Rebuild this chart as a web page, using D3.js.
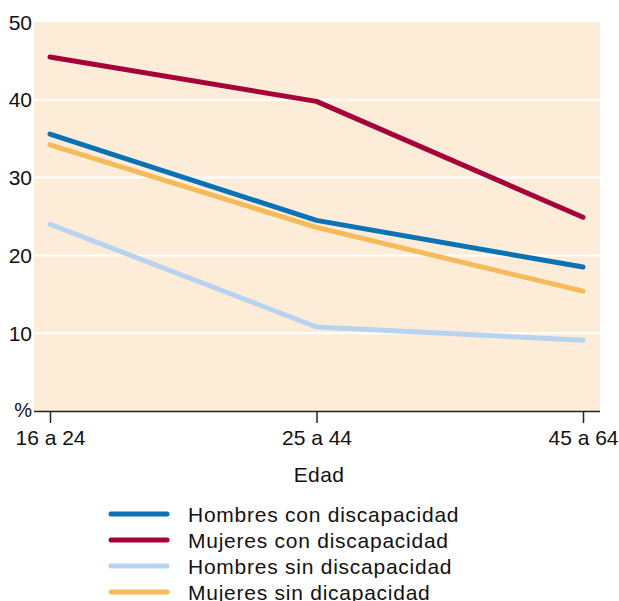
<!DOCTYPE html>
<html><head><meta charset="utf-8">
<script src="https://cdn.jsdelivr.net/npm/d3@7"></script>
<style>body{margin:0;background:#fff;} text{font-family:"Liberation Sans",Arial,sans-serif;fill:#111;}</style>
</head><body>
<script>
const categories = ["16 a 24", "25 a 44", "45 a 64"];
const hombresCon = [35.6, 24.5, 18.5];
const mujeresCon = [45.5, 39.8, 24.9];
const hombresSin = [24.0, 10.8, 9.1];
const mujeresSin = [34.2, 23.6, 15.4];
const seriesNames = ["Hombres con discapacidad", "Mujeres con discapacidad", "Hombres sin discapacidad", "Mujeres sin dicapacidad"];
const colors = ["#0a72b6", "#a6023a", "#b8d3ef", "#f5bb5a"];
const yTicks = [10, 20, 30, 40, 50];

(function () {
const W = 619, H = 601;
const svg = d3.select("body").append("svg").attr("width", W).attr("height", H);
const pL = 34, pR = 600, pT = 22, pB = 411;
const x = d3.scalePoint().domain(categories).range([50, 583]);
const y = d3.scaleLinear().domain([0, 50]).range([pB, pT]);

svg.append("rect").attr("x", pL).attr("y", pT).attr("width", pR - pL).attr("height", pB - pT).attr("fill", "#fdecd8");
svg.selectAll("line.grid").data(yTicks.slice(0, -1)).join("line")
  .attr("x1", pL).attr("x2", pR).attr("y1", d => y(d)).attr("y2", d => y(d))
  .attr("stroke", "#fff").attr("stroke-width", 2);

svg.selectAll("text.yl").data(yTicks).join("text")
  .attr("x", 32).attr("y", d => y(d) + 7.5).attr("text-anchor", "end")
  .attr("font-size", 21).text(d => d);
svg.append("text").attr("x", 32).attr("y", pB + 6).attr("text-anchor", "end").attr("font-size", 20).text("%");

const xAxis = svg.append("g").attr("transform", `translate(0,${pB})`)
  .call(d3.axisBottom(x).tickSize(12).tickPadding(7));
xAxis.select(".domain").attr("d", `M${pL},0.5H${pR}`).attr("stroke", "#222").attr("stroke-width", 1.5);
xAxis.selectAll(".tick line").attr("stroke", "#222").attr("stroke-width", 1.5);
xAxis.selectAll(".tick text").attr("font-size", 21).attr("fill", "#111").attr("font-family", "Liberation Sans, Arial, sans-serif");
svg.append("text").attr("x", 319).attr("y", 482).attr("text-anchor", "middle").attr("font-size", 21).attr("letter-spacing", 0.4).text("Edad");

const allSeries = [hombresCon, mujeresCon, hombresSin, mujeresSin];
const line = d3.line().x((d, i) => x(categories[i])).y(d => y(d));
[2, 3, 0, 1].forEach(k => {
  svg.append("path").attr("d", line(allSeries[k])).attr("fill", "none")
    .attr("stroke", colors[k]).attr("stroke-width", 5).attr("stroke-linecap", "round").attr("stroke-linejoin", "round");
});

const lg = svg.append("g");
seriesNames.forEach((n, i) => {
  const yy = 514 + i * 26;
  lg.append("line").attr("x1", 111).attr("x2", 167).attr("y1", yy).attr("y2", yy)
    .attr("stroke", colors[i]).attr("stroke-width", 5).attr("stroke-linecap", "round");
  lg.append("text").attr("x", 188).attr("y", yy + 8).attr("font-size", 21).attr("letter-spacing", 0.75).text(n);
});
})();
</script>
</body></html>
